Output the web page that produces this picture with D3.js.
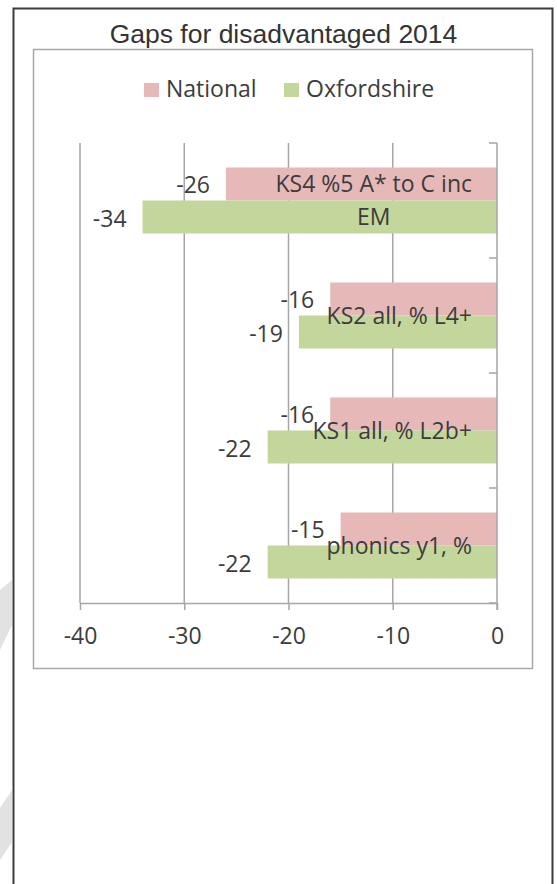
<!DOCTYPE html>
<html>
<head>
<meta charset="utf-8">
<script src="https://cdn.jsdelivr.net/npm/d3@7"></script>
<style>
  html, body { margin: 0; padding: 0; background: #fff; }
  svg { display: block; }
</style>
</head>
<body>
<svg id="chart" width="557" height="884"></svg>
<script>
// Gaps for disadvantaged pupils, 2014 (percentage points)
const categories = [["KS4 %5 A* to C inc", "EM"], ["KS2 all, % L4+"], ["KS1 all, % L2b+"], ["phonics y1, %"]];
const seriesNames = ["National", "Oxfordshire"];
const nationalValues = [-26, -16, -16, -15];
const oxfordshireValues = [-34, -19, -22, -22];
const xTicks = [-40, -30, -20, -10, 0];
const seriesColors = ["#e6b9b8", "#c3d69b"];

const labelFont = "'Open Sans', 'Noto Sans', sans-serif";
const labelSize = 23;
const textColor = "#3c3c3c";

const svg = d3.select("#chart");

// faint diagonal page marks at the left edge
const stripes = [
  [[0, 590], [12, 580], [12, 625], [0, 650]],
  [[0, 808], [12, 790], [12, 842], [0, 860]]
];
svg.selectAll("polygon.stripe").data(stripes).join("polygon")
  .attr("class", "stripe")
  .attr("points", d => d.map(p => p.join(",")).join(" "))
  .attr("fill", "#e2e2e2");

// page frame (open at the bottom)
svg.append("path")
  .attr("d", "M13.5,884 V8.5 H552.5 V884")
  .attr("fill", "none")
  .attr("stroke", "#3c3c3c")
  .attr("stroke-width", 2);

// chart box
svg.append("rect")
  .attr("x", 33.5).attr("y", 49.5)
  .attr("width", 499).attr("height", 619)
  .attr("fill", "#fff")
  .attr("stroke", "#a8a8a8")
  .attr("stroke-width", 1.5);

// title
svg.append("text")
  .attr("x", 283.5).attr("y", 43)
  .attr("text-anchor", "middle")
  .attr("font-family", "'Liberation Sans', Arial, sans-serif")
  .attr("font-size", 26.5)
  .attr("fill", "#333")
  .text("Gaps for disadvantaged 2014");

// legend
const legendItems = [{name: seriesNames[0], x: 144}, {name: seriesNames[1], x: 284}];
const legend = svg.append("g");
legendItems.forEach((item, i) => {
  legend.append("rect")
    .attr("x", item.x).attr("y", 83)
    .attr("width", 15).attr("height", 14)
    .attr("fill", seriesColors[i]);
  legend.append("text")
    .attr("x", item.x + 22).attr("y", 97)
    .attr("font-family", labelFont)
    .attr("font-size", labelSize)
    .attr("fill", textColor)
    .text(item.name);
});

// scales
const plotTop = 143, plotBottom = 603;
const x = d3.scaleLinear().domain([-40, 0]).range([80, 497]);
const catKeys = categories.map(c => c.join(" "));
const y0 = d3.scaleBand().domain(catKeys).range([plotTop, plotBottom]);
const y1 = d3.scaleBand().domain(seriesNames).range([0, y0.bandwidth()]).paddingOuter(0.742);

// vertical gridlines
svg.append("g").selectAll("line").data(xTicks.slice(0, -1)).join("line")
  .attr("x1", d => x(d)).attr("x2", d => x(d))
  .attr("y1", plotTop).attr("y2", plotBottom)
  .attr("stroke", "#a6a6a6").attr("stroke-width", 1.5);

// bars
const rows = catKeys.map((k, i) => ({key: k, lines: categories[i], values: [nationalValues[i], oxfordshireValues[i]]}));
const barGroups = svg.append("g").selectAll("g").data(rows).join("g")
  .attr("transform", d => `translate(0,${y0(d.key)})`);

barGroups.selectAll("rect").data(d => d.values.map((v, i) => ({v, s: seriesNames[i], i})))
  .join("rect")
  .attr("x", d => x(d.v))
  .attr("width", d => x(0) - x(d.v))
  .attr("y", d => y1(d.s))
  .attr("height", y1.bandwidth())
  .attr("fill", d => seriesColors[d.i]);

// value labels at bar ends
barGroups.selectAll("text.value").data(d => d.values.map((v, i) => ({v, s: seriesNames[i]})))
  .join("text")
  .attr("class", "value")
  .attr("x", d => x(d.v) - 16)
  .attr("y", d => y1(d.s) + y1.bandwidth() / 2 + 9.5)
  .attr("text-anchor", "end")
  .attr("font-family", labelFont)
  .attr("font-size", labelSize)
  .attr("fill", textColor)
  .text(d => String(d.v));

// x axis
const xAxis = svg.append("g")
  .attr("transform", `translate(0,${plotBottom})`)
  .call(d3.axisBottom(x).tickValues(xTicks).tickFormat(d => String(d))
    .tickSize(7).tickSizeOuter(0).tickPadding(18));
xAxis.select(".domain").attr("stroke", "#a6a6a6").attr("stroke-width", 1.5);
xAxis.selectAll(".tick line").attr("stroke", "#a6a6a6").attr("stroke-width", 1.5);
xAxis.selectAll(".tick text")
  .attr("font-family", labelFont)
  .attr("font-size", labelSize)
  .attr("fill", textColor)
  .attr("dy", "0.71em");

// category axis at zero, ticks between categories
const yAxisX = x(0);
svg.append("line")
  .attr("x1", yAxisX).attr("x2", yAxisX)
  .attr("y1", plotTop).attr("y2", plotBottom + 7)
  .attr("stroke", "#a6a6a6").attr("stroke-width", 1.5);
const boundaries = catKeys.map(k => y0(k)).concat([plotBottom]);
svg.append("g").selectAll("line").data(boundaries).join("line")
  .attr("x1", yAxisX - 8).attr("x2", yAxisX)
  .attr("y1", d => d).attr("y2", d => d)
  .attr("stroke", "#a6a6a6").attr("stroke-width", 1.5);

// category labels, right-aligned block with centred lines
const lineGap = 32.5;
rows.forEach(r => {
  const cy = y0(r.key) + y0.bandwidth() / 2;
  const t = svg.append("text")
    .attr("font-family", labelFont)
    .attr("font-size", labelSize)
    .attr("fill", textColor)
    .attr("text-anchor", "middle");
  const n = r.lines.length;
  r.lines.forEach((line, j) => {
    t.append("tspan")
      .attr("y", cy + 8 + (j - (n - 1) / 2) * lineGap)
      .text(line);
  });
  const widths = [];
  t.selectAll("tspan").each(function () { widths.push(this.getComputedTextLength()); });
  const cx = (yAxisX - 25) - d3.max(widths) / 2;
  t.selectAll("tspan").attr("x", cx);
});
</script>
</body>
</html>
